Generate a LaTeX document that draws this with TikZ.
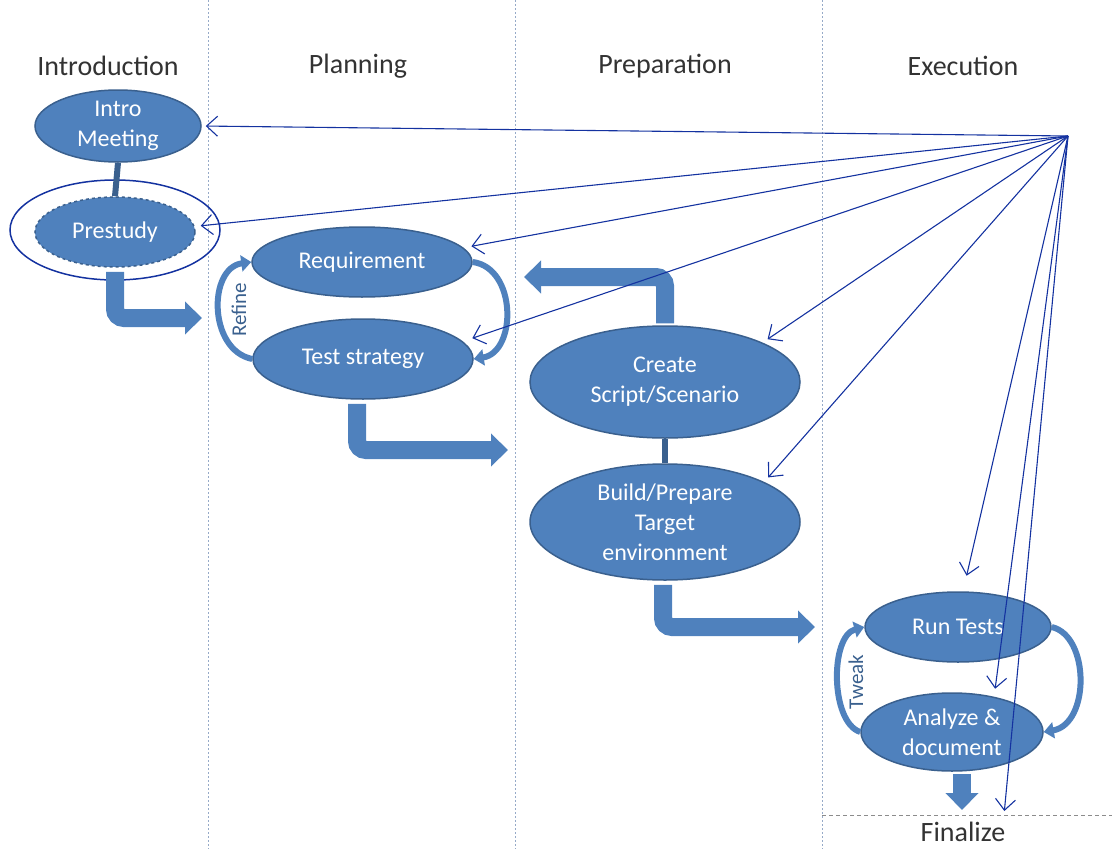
\documentclass[tikz,border=0pt]{standalone}
\usepackage{fontspec}
\setmainfont{Carlito}
\usetikzlibrary{arrows.meta,shapes.geometric}

\definecolor{boxBlue}{RGB}{79,129,189}
\definecolor{boxEdge}{RGB}{58,96,142}
\definecolor{pointBlue}{RGB}{20,50,160}
\definecolor{laneGray}{RGB}{150,170,200}

\tikzset{	phase/.style={ellipse,fill=boxBlue,draw=boxEdge,line width=1.5pt,text=white,
				align=center,inner sep=-3pt,font=\fontsize{24}{30}\selectfont},
		lane/.style={laneGray,line width=0.9pt,dash pattern=on 2pt off 2pt},
		header/.style={text=black!80,font=\fontsize{28}{30}\selectfont},
		bigarrow/.style={boxBlue,line width=18pt,rounded corners=9pt,
				-{Triangle[length=17pt,width=32pt]}},
		loopy/.style={boxBlue,line width=6pt,-{Triangle[length=10pt,width=16pt]}},
		looptext/.style={rotate=90,text=boxEdge,font=\fontsize{21}{24}\selectfont},
		pointer/.style={pointBlue,line width=1.1pt,shorten >=4pt,
				-{Straight Barb[length=11pt,width=20pt]}}
				}

\begin{document}
\begin{tikzpicture}[x=1pt,y=-1pt]
	\useasboundingbox (0,0) rectangle (1112,849);

        % lanes and headers
        \draw[lane] (208,0)--(208,849);
        \draw[lane] (515,0)--(515,849);
        \draw[lane] (822,0)--(822,849);
        \draw[lane,black!45,dash pattern=on 4pt off 3pt] (822,815)--(1112,815);

	\node[header] (hIntro) at (108,66) {Introduction};
	\node[header] (hPlan) at (358,66) {Planning};
	\node[header] (hPrep) at (665,66) {Preparation};
	\node[header] (hExec) at (963,66) {Execution};
	\node[header] (hFinal) at (963,832) {Finalize};

        % phases
	\node[phase,minimum width=166pt,minimum height=72pt] (intro) at (118,126) {Intro\\Meeting};
	\node[phase,dashed,minimum width=160pt,minimum height=70pt] (pre) at (115,232) {Prestudy};
	\node[ellipse,draw=pointBlue,line width=1.5pt,minimum width=210pt,minimum height=100pt] (ring) at (115,230) {};
	\node[phase,minimum width=220pt,minimum height=70pt] (req) at (362,262) {Requirement};
	\node[phase,minimum width=220pt,minimum height=80pt] (ts) at (363,359) {Test strategy};
	\node[phase,minimum width=270pt,minimum height=112pt] (script) at (665,382) {Create\\Script/Scenario};
	\node[phase,minimum width=270pt,minimum height=116pt] (build) at (665,522) {Build/Prepare\\Target\\environment};
	\node[phase,minimum width=186pt,minimum height=70pt] (run) at (958,627) {Run Tests};
	\node[phase,minimum width=182pt,minimum height=78pt] (ana) at (952,732) {Analyze \&\\document};

        % links and block arrows
        \draw[boxEdge,line width=6pt] (intro.south)--(pre.north);
        \draw[boxEdge,line width=6pt] (script.south)--(build.north);
        \draw[bigarrow] (pre.south)++(0,4)--(115,318)--(202,318);
        \draw[bigarrow] (ts.south)++(-6,4)--(357,450)--(508,450);
        \draw[bigarrow] (build.south)++(-2,4)--(663,627)--(815,627);
        \draw[bigarrow] (script.north)++(0,-2)--(665,277)--(524,277);
        \draw[bigarrow] (ana.south)++(10,2)--(962,810);

        % loops
        \draw[loopy] (ts.west) .. controls (208,350) and (208,268) .. (req.west);
        \draw[loopy] (req.east) .. controls (517,268) and (517,352) .. (ts.east);
        \draw[loopy] (ana.west) .. controls (830,722) and (830,636) .. (run.west);
        \draw[loopy] (run.east) .. controls (1090,636) and (1090,724) .. (ana.east);
	\node[looptext] (refine) at (239,310) {Refine};
	\node[looptext] (tweak) at (856,682) {Tweak};

        % pointers
	\coordinate (hub) at (1068,136);
	\coordinate (fin) at (1004,815);
        \draw[pointer] (hub)--(intro.east);
        \draw[pointer,shorten >=6pt] (hub)--(pre.4);
        \draw[pointer,shorten >=8pt] (hub)--(req.8);
        \draw[pointer,shorten >=10pt] (hub)--(ts.10);
        \draw[pointer,shorten >=6pt] (hub)--(script.22);
        \draw[pointer,shorten >=6pt] (hub)--(build.22);
        \draw[pointer,shorten >=16pt] (hub)--(run.82);
        \draw[pointer,shorten >=8pt] (hub)--(ana.40);
        \draw[pointer] (hub)--(fin);
\end{tikzpicture}
\end{document}
